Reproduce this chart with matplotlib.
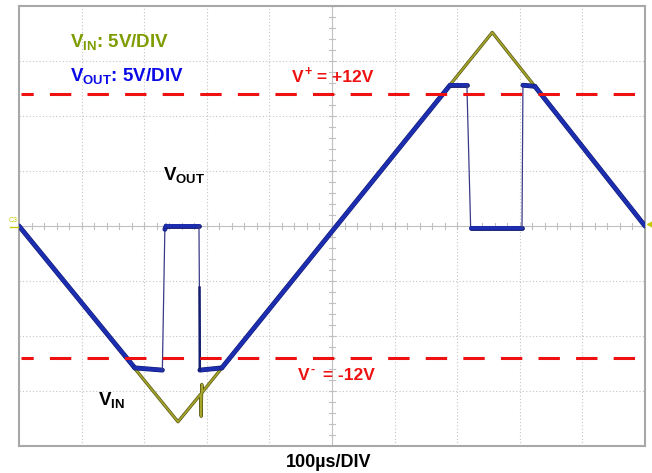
import numpy as np
import matplotlib
matplotlib.use('Agg')
import matplotlib.pyplot as plt
import matplotlib.patheffects as pe

plt.rcParams['font.family'] = ['Liberation Sans', 'DejaVu Sans']
plt.rcParams['mathtext.fontset'] = 'custom'
plt.rcParams['mathtext.rm'] = 'Liberation Sans:bold'
plt.rcParams['mathtext.bf'] = 'Liberation Sans:bold'
plt.rcParams['mathtext.it'] = 'Liberation Sans:bold'
plt.rcParams['mathtext.default'] = 'bf'

# ---- data (time in µs, voltage in V) ----
vin_t = [0, 254, 290, 291, 292, 293, 756, 1000]
vin_v = [0, -17.8, -15.3, -17.3, -14.4, -15.1, 17.6, 0]

vout_t = [0, 185, 229, 233, 235, 287.5, 289, 324, 688.5, 715.5, 721.5, 803.5, 805, 824, 1000]
vout_v = [0, -12.9, -13.1, -0.3, 0.0, 0.0, -13.1, -12.9, 12.8, 12.8, -0.2, -0.2, 12.8, 12.7, 0]

glitch_t = [288.4, 288.8]
glitch_v = [-5.6, -13.1]

rails_v = [12, -12]
rail_sup = ['+', '-']
rail_rest = [' = +12V', ' = -12V']

W, H = 652, 473
fig = plt.figure(figsize=(W / 100, H / 100), dpi=100)
ax = fig.add_axes([19 / W, 27 / H, 626 / W, 440 / H])
ax.set_xlim(0, 1000)
ax.set_ylim(-20, 20)
ax.set_xticks([])
ax.set_yticks([])
for s in ax.spines.values():
    s.set_color('#a8a8a8')
    s.set_linewidth(1.5)

# grid
for x in range(100, 1000, 100):
    if x == 500:
        ax.axvline(x, color='#c0c0c0', lw=0.8, zorder=0)
    else:
        ax.axvline(x, color='#c4c4c4', lw=0.8, ls=(0, (1, 2)), zorder=0)
for y in range(-15, 20, 5):
    if y == 0:
        ax.axhline(y, color='#c0c0c0', lw=0.8, zorder=0)
    else:
        ax.axhline(y, color='#c4c4c4', lw=0.8, ls=(0, (1, 2)), zorder=0)
# center tick marks
for x in range(0, 1001, 20):
    ax.plot([x, x], [-0.25, 0.25], color='#c0c0c0', lw=0.8, zorder=0)
for y in range(-20, 21, 1):
    ax.plot([496, 504], [y, y], color='#c0c0c0', lw=0.8, zorder=0)

# rail lines
for v in rails_v:
    ax.plot([3, 1008], [v, v], color='#ee1111', lw=2.2, ls=(3, (7, 5.3)),
            clip_on=False, zorder=5)

# Vin
ax.plot(vin_t, vin_v, color='#a6a62c', lw=1.2, zorder=2,
        path_effects=[pe.Stroke(linewidth=2.3, foreground='#5c5c14'), pe.Normal()])

# Vout: thick where slow, thin on fast edges
vt = np.array(vout_t, float)
vv = np.array(vout_v, float)
for i in range(len(vt) - 1):
    slope = abs(vv[i + 1] - vv[i]) / (vt[i + 1] - vt[i])
    if slope < 1:
        ax.plot(vt[i:i + 2], vv[i:i + 2], color='#1c2db0', lw=2.7, zorder=3,
                solid_capstyle='round',
                path_effects=[pe.Stroke(linewidth=3.5, foreground='#141e70'), pe.Normal()])
    else:
        ax.plot(vt[i:i + 2], vv[i:i + 2], color='#3a3a88', lw=0.9, zorder=3)
ax.plot(glitch_t, glitch_v, color='#141e70', lw=1.8, zorder=3)

# channel markers
ax.plot(1008, 0.2, marker='<', color='#c8c800', ms=5, clip_on=False, zorder=6)
fig.text(9 / W, 1 - 222 / H, 'C3', color='#c8c800', fontsize=5, va='baseline')
fig.add_artist(plt.Line2D([10 / W, 18 / W], [1 - 227 / H, 1 - 227 / H], color='#c8c800', lw=1))

def ftxt(px, py, s, **kw):
    return fig.text(px / W, 1 - py / H, s, va='baseline', ha='left', fontweight='bold', **kw)

ftxt(70, 47, r'V$_{IN}$: 5V/DIV', color='#7d9c00', fontsize=13.5)
ftxt(70, 81, r'V$_{OUT}$: 5V/DIV', color='#0a0ae6', fontsize=13.5)
ftxt(163, 180, r'V$_{OUT}$', color='black', fontsize=13.5)
ftxt(98, 405, r'V$_{IN}$', color='black', fontsize=13.5)
ftxt(286, 467, '100µs/DIV', color='black', fontsize=13)

# rail labels with manual superscripts
for (px, py), sup, rest in zip([(292, 82), (298, 380)], rail_sup, rail_rest):
    ftxt(px, py, 'V', color='#ee1111', fontsize=12.5)
    ftxt(px + 12.5, py - 7, sup, color='#ee1111', fontsize=9)
    ftxt(px + 20, py, rest, color='#ee1111', fontsize=12.5)

fig.savefig('out.png', dpi=100)
